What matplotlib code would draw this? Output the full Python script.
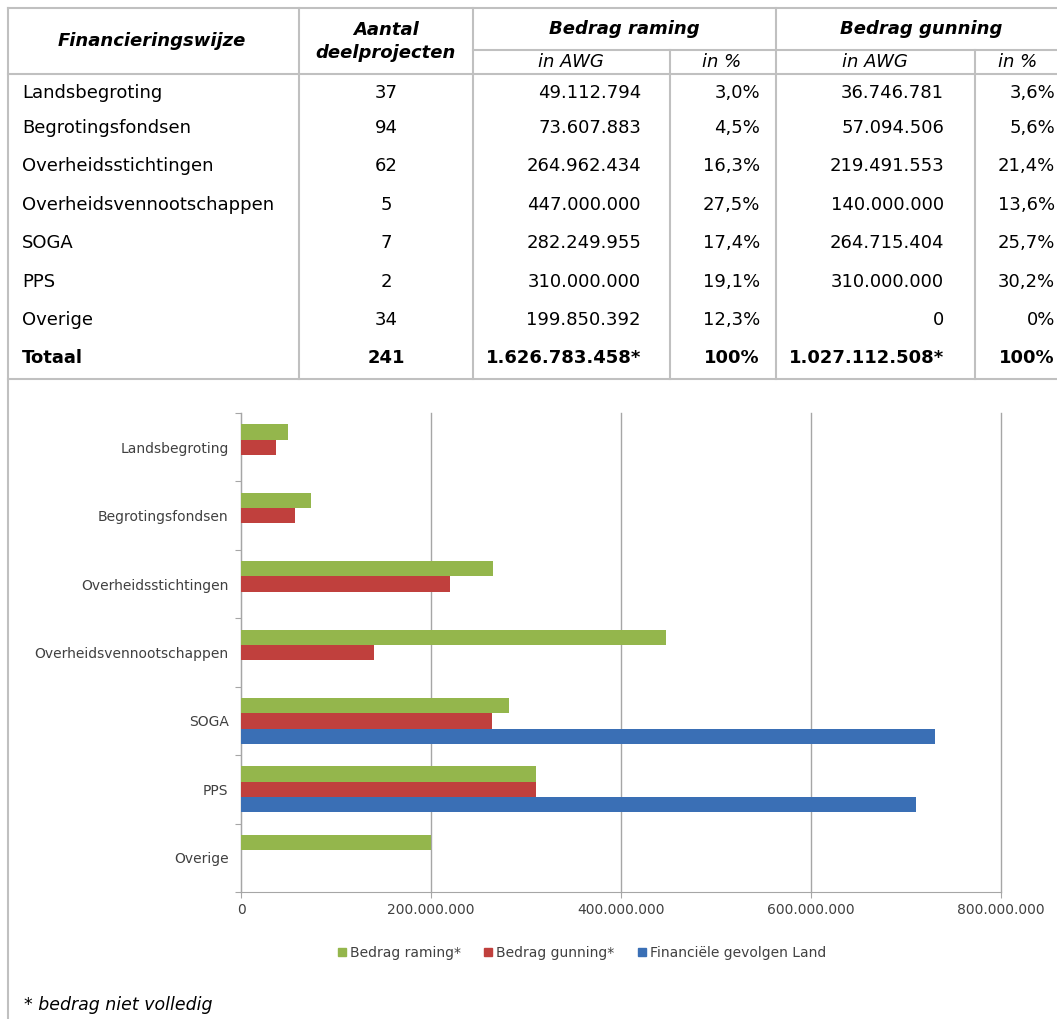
import matplotlib.pyplot as plt
from matplotlib.lines import Line2D
from matplotlib.patches import Patch
import numpy as np

# data
categories = ['Landsbegroting', 'Begrotingsfondsen', 'Overheidsstichtingen',
              'Overheidsvennootschappen', 'SOGA', 'PPS', 'Overige']
aantal = [37, 94, 62, 5, 7, 2, 34]
raming = [49112794, 73607883, 264962434, 447000000, 282249955, 310000000, 199850392]
raming_pct = ['3,0%', '4,5%', '16,3%', '27,5%', '17,4%', '19,1%', '12,3%']
gunning = [36746781, 57094506, 219491553, 140000000, 264715404, 310000000, 0]
gunning_pct = ['3,6%', '5,6%', '21,4%', '13,6%', '25,7%', '30,2%', '0%']
gevolgen = [0, 0, 0, 0, 730000000, 711000000, 0]
totaal = ['Totaal', '241', '1.626.783.458*', '100%', '1.027.112.508*', '100%']

series_names = ['Bedrag raming*', 'Bedrag gunning*', 'Financiële gevolgen Land']
colors = ['#94b64c', '#c0403d', '#3a6fb5']
xticks = [0, 200000000, 400000000, 600000000, 800000000]

W, H = 1057, 1019
fig = plt.figure(figsize=(W / 100, H / 100), dpi=100)


def fx(x):
    return x / W


def fy(y):
    return 1 - y / H


def dots(v):
    return f'{v:,}'.replace(',', '.')


def hline(y, x0, x1):
    fig.add_artist(Line2D([fx(x0), fx(x1)], [fy(y), fy(y)], transform=fig.transFigure,
                          color='#c0c0c0', lw=1.5))


def vline(x, y0, y1):
    fig.add_artist(Line2D([fx(x), fx(x)], [fy(y0), fy(y1)], transform=fig.transFigure,
                          color='#c0c0c0', lw=1.5))


# table grid
hline(8, 8, 1057)
hline(50, 473, 1057)
hline(74, 8, 1057)
hline(379, 8, 1057)
vline(8, 8, 1019)
for x in [299, 473, 776]:
    vline(x, 8, 379)
for x in [670, 975]:
    vline(x, 50, 379)

# table header
fs = 13
hdr = dict(fontsize=fs, fontweight='bold', style='italic', ha='center', va='center')
fig.text(fx(152), fy(41), 'Financieringswijze', **hdr)
fig.text(fx(386), fy(30), 'Aantal', **hdr)
fig.text(fx(386), fy(53), 'deelprojecten', **hdr)
fig.text(fx(624), fy(29), 'Bedrag raming', **hdr)
fig.text(fx(921), fy(29), 'Bedrag gunning', **hdr)
for x, s in [(571, 'in AWG'), (722, 'in %'), (875, 'in AWG'), (1018, 'in %')]:
    fig.text(fx(x), fy(62), s, fontsize=fs, style='italic', ha='center', va='center')

# table body
row_y = [93, 128, 166, 205, 243, 282, 320]
for i, y in enumerate(row_y):
    fig.text(fx(22), fy(y), categories[i], fontsize=fs, va='center')
    fig.text(fx(386), fy(y), str(aantal[i]), fontsize=fs, ha='center', va='center')
    fig.text(fx(641), fy(y), dots(raming[i]), fontsize=fs, ha='right', va='center')
    fig.text(fx(760), fy(y), raming_pct[i], fontsize=fs, ha='right', va='center')
    fig.text(fx(944), fy(y), dots(gunning[i]), fontsize=fs, ha='right', va='center')
    fig.text(fx(1055), fy(y), gunning_pct[i], fontsize=fs, ha='right', va='center')

yt = 358
fig.text(fx(22), fy(yt), totaal[0], fontsize=fs, fontweight='bold', va='center')
fig.text(fx(386), fy(yt), totaal[1], fontsize=fs, fontweight='bold', ha='center', va='center')
for x, s in zip([641, 760, 944, 1055], totaal[2:]):
    fig.text(fx(x), fy(yt), s, fontsize=fs, fontweight='bold', ha='right', va='center')

# chart
ax = fig.add_axes([fx(241), fy(892), (1001 - 241) / W, (892 - 413) / H])
pos = np.arange(len(categories))
h = 0.224
for k, vals in enumerate([raming, gunning, gevolgen]):
    ax.barh(pos + (k - 1) * h, vals, height=h, color=colors[k], zorder=3)

ax.set_xlim(0, 800000000)
ax.set_ylim(len(categories) - 0.5, -0.5)
ax.set_xticks(xticks, [dots(v) for v in xticks])
ax.set_yticks(np.arange(-0.5, len(categories), 1), [''] * (len(categories) + 1))
ax.set_yticks(pos, categories, minor=True)
ax.xaxis.grid(True, color='#a6a6a6', lw=1)
for gl in ax.get_xgridlines():
    gl.set_clip_on(False)
ax.set_axisbelow(True)
ax.tick_params(axis='x', length=4, color='#a6a6a6', labelsize=10, labelcolor='#404040', pad=4)
ax.tick_params(axis='y', which='major', length=4, color='#a6a6a6')
ax.tick_params(axis='y', which='minor', length=0, labelsize=10, labelcolor='#404040', pad=9)
for s in ['top', 'right']:
    ax.spines[s].set_visible(False)
for s in ['left', 'bottom']:
    ax.spines[s].set_color('#a6a6a6')

handles = [Patch(color=c) for c in colors]
leg = fig.legend(handles, series_names, loc='center', bbox_to_anchor=(fx(582), fy(953)),
                 ncol=3, frameon=False, fontsize=10, handlelength=0.55, handleheight=0.55,
                 handletextpad=0.3, columnspacing=1.7)
for t in leg.get_texts():
    t.set_color('#404040')

fig.text(fx(24), fy(1005), '* bedrag niet volledig', fontsize=12.5, style='italic', va='center')

fig.savefig('out.png', dpi=100)
